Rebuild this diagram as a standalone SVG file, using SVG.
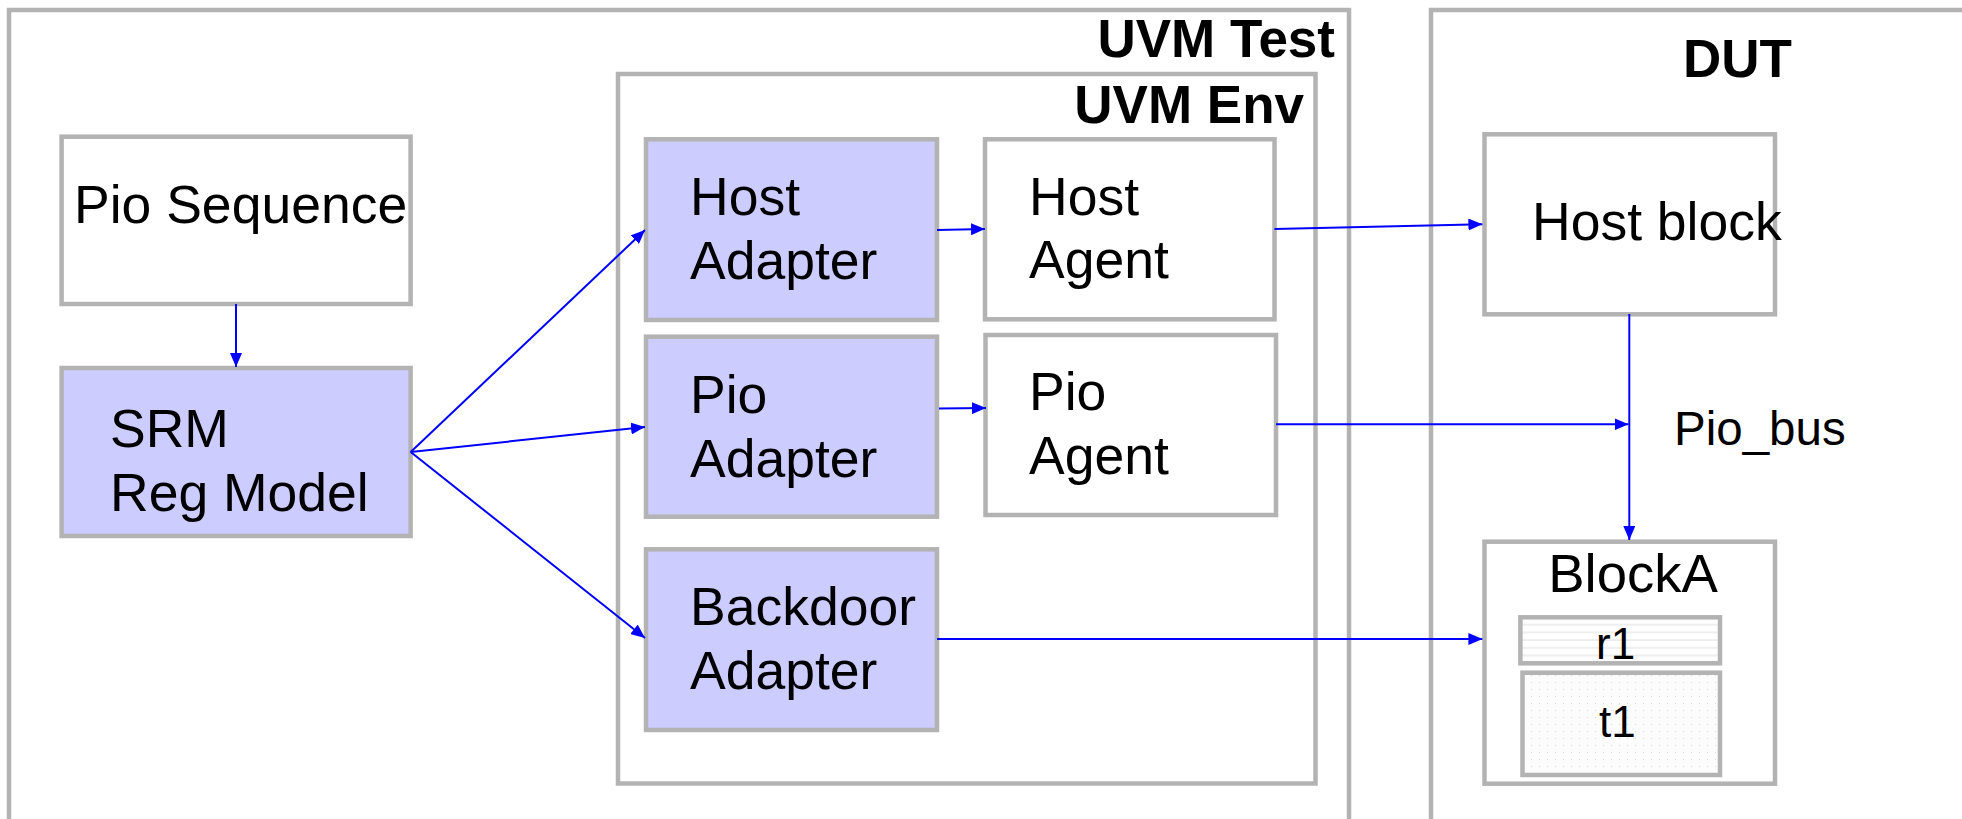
<svg xmlns="http://www.w3.org/2000/svg" width="1962" height="819" viewBox="0 0 1962 819">
<defs>
<style>
.box{stroke:#b3b3b3;stroke-width:4.5;fill:#ffffff}
.cont{stroke:#b3b3b3;stroke-width:4.5;fill:none}
.blue{fill:#ccccff}
.t{font-family:"Liberation Sans",Arial,sans-serif;font-size:53.5px;fill:#000}
.b{font-family:"Liberation Sans",Arial,sans-serif;font-size:53px;font-weight:bold;fill:#000}
.c{stroke:#0000ff;stroke-width:2;fill:none}
</style>
<marker id="ah" markerWidth="14" markerHeight="12" refX="14" refY="6" orient="auto" markerUnits="userSpaceOnUse">
<path d="M0,0 L14,6 L0,12 z" fill="#0000ff"/>
</marker>
<pattern id="hl" width="8" height="7.7" patternUnits="userSpaceOnUse">
<rect width="8" height="7.7" fill="#ffffff"/>
<line x1="0" y1="1" x2="8" y2="1" stroke="#e4e4e4" stroke-width="1.2"/>
</pattern>
<pattern id="dots" width="8" height="7" patternUnits="userSpaceOnUse">
<rect width="8" height="7" fill="#fcfcfc"/>
<rect x="3" y="3" width="1" height="1" fill="#d8d8d8"/>
</pattern>
</defs>
<rect width="1962" height="819" fill="#ffffff"/>
<g id="uvm-test">
<rect class="cont" x="9" y="10" width="1340" height="830"/>
<text class="b" x="1335" y="57" text-anchor="end">UVM Test</text>
</g>
<g id="uvm-env">
<rect class="cont" x="618" y="74" width="697.5" height="709.5"/>
<text class="b" x="1304" y="123" text-anchor="end">UVM Env</text>
</g>
<g id="dut">
<rect class="cont" x="1431" y="10" width="620" height="830"/>
<text class="b" x="1683" y="77">DUT</text>
</g>
<g id="pio-sequence">
<rect class="box" x="61.6" y="136.7" width="349" height="167.3"/>
<text class="t" x="74" y="222.7">Pio Sequence</text>
</g>
<g id="srm">
<rect class="box blue" x="61.6" y="368" width="349" height="168"/>
<text class="t" x="110" y="446.7">SRM</text>
<text class="t" x="110" y="511">Reg Model</text>
</g>
<g id="host-adapter">
<rect class="box blue" x="646" y="139.3" width="291" height="180.7"/>
<text class="t" x="690" y="215">Host</text>
<text class="t" x="690" y="279.3">Adapter</text>
</g>
<g id="pio-adapter">
<rect class="box blue" x="646" y="336.7" width="291" height="180"/>
<text class="t" x="690" y="412.7">Pio</text>
<text class="t" x="690" y="476.7">Adapter</text>
</g>
<g id="backdoor-adapter">
<rect class="box blue" x="646" y="549.3" width="291" height="180.7"/>
<text class="t" x="690" y="625">Backdoor</text>
<text class="t" x="690" y="689.3">Adapter</text>
</g>
<g id="host-agent">
<rect class="box" x="985" y="139.3" width="289.5" height="180"/>
<text class="t" x="1029" y="215">Host</text>
<text class="t" x="1029" y="278">Agent</text>
</g>
<g id="pio-agent">
<rect class="box" x="985.5" y="335" width="290.5" height="180"/>
<text class="t" x="1029" y="410">Pio</text>
<text class="t" x="1029" y="474">Agent</text>
</g>
<g id="host-block">
<rect class="box" x="1484.5" y="134.3" width="290.5" height="180"/>
<text class="t" x="1532" y="240">Host block</text>
</g>
<g id="blocka">
<rect class="box" x="1484.5" y="541.7" width="290.5" height="242"/>
<text class="t" x="1633" y="591.7" text-anchor="middle" style="font-size:54.5px">BlockA</text>
</g>
<g id="r1">
<rect x="1520.4" y="617.3" width="199.6" height="46" fill="url(#hl)" stroke="#b3b3b3" stroke-width="4.5"/>
<text class="t" x="1596" y="659" style="font-size:44px">r1</text>
</g>
<g id="t1">
<rect x="1522.5" y="672.7" width="197.5" height="102.3" fill="url(#dots)" stroke="#b3b3b3" stroke-width="4.5"/>
<text class="t" x="1599" y="736.7" style="font-size:44px">t1</text>
</g>
<g id="pio-bus-label">
<text class="t" x="1674" y="445" style="font-size:47.5px">Pio_bus</text>
</g>
<g id="connectors">
<line class="c" x1="236" y1="304" x2="236" y2="367" marker-end="url(#ah)"/>
<line class="c" x1="410.7" y1="452" x2="645" y2="230" marker-end="url(#ah)"/>
<line class="c" x1="410.7" y1="452" x2="645" y2="427" marker-end="url(#ah)"/>
<line class="c" x1="410.7" y1="452" x2="645" y2="638" marker-end="url(#ah)"/>
<line class="c" x1="937" y1="230" x2="985" y2="229" marker-end="url(#ah)"/>
<line class="c" x1="939" y1="408.5" x2="986" y2="408" marker-end="url(#ah)"/>
<line class="c" x1="1274.5" y1="229" x2="1482.4" y2="224.3" marker-end="url(#ah)"/>
<line class="c" x1="1276" y1="424.3" x2="1628.5" y2="424.3" marker-end="url(#ah)"/>
<line class="c" x1="1629.3" y1="314" x2="1629.3" y2="540" marker-end="url(#ah)"/>
<line class="c" x1="937" y1="639" x2="1482.4" y2="639" marker-end="url(#ah)"/>
</g>
</svg>
